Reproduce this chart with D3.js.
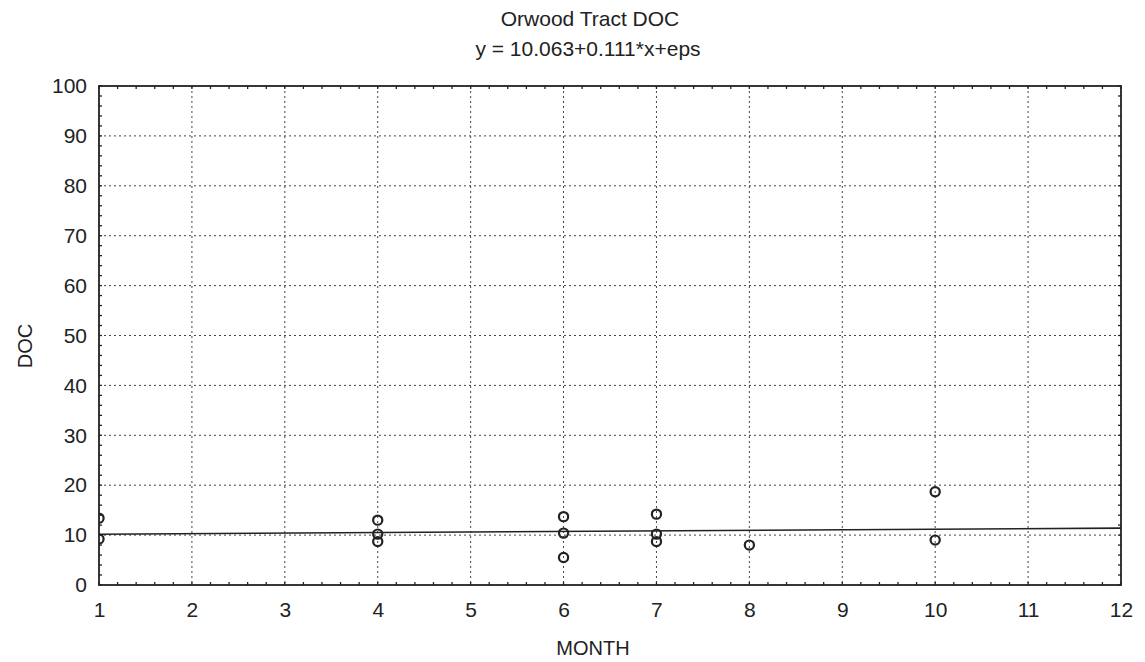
<!DOCTYPE html>
<html><head><meta charset="utf-8">
<script src="https://cdn.jsdelivr.net/npm/d3@7"></script>
<style>body{margin:0;background:#fff;} svg{display:block;} text{font-family:"Liberation Sans",Arial,sans-serif;fill:#222;}</style>
</head><body>
<svg id="c" width="1145" height="662"></svg>
<script>
const titleLines = ["Orwood Tract DOC", "y = 10.063+0.111*x+eps"];
const xLabel = "MONTH";
const yLabel = "DOC";
const xTicks = [1,2,3,4,5,6,7,8,9,10,11,12];
const yTicks = [0,10,20,30,40,50,60,70,80,90,100];
const months = [1,1,4,4,4,6,6,6,7,7,7,8,10,10];
const docValues = [13.4,9.2,13.0,10.2,8.7,13.7,10.4,5.5,14.2,10.2,8.7,8.0,18.7,9.0];
const intercept = 10.063, slope = 0.111;

const svg = d3.select("#c");
const L = 99, R = 1121, T = 86, B = 585;
const x = d3.scaleLinear().domain([1,12]).range([L,R]);
const y = d3.scaleLinear().domain([0,100]).range([B,T]);

// grid
const grid = svg.append("g").attr("stroke","#444").attr("stroke-width",1).attr("stroke-dasharray","2,3");
grid.selectAll(".gx").data(xTicks.slice(1,-1)).join("line")
  .attr("x1",d=>x(d)).attr("x2",d=>x(d)).attr("y1",T).attr("y2",B);
grid.selectAll(".gy").data(yTicks.slice(1,-1)).join("line")
  .attr("x1",L).attr("x2",R).attr("y1",d=>y(d)).attr("y2",d=>y(d));

// minor ticks on all four sides
const xMinor = d3.range(1,12.001,0.2);
const yMinor = d3.range(0,100.001,2);
const tk = svg.append("g").attr("stroke","#222").attr("stroke-width",1.3);
tk.selectAll(".tb").data(xMinor).join("line").attr("x1",d=>x(d)).attr("x2",d=>x(d)).attr("y1",B).attr("y2",B-3);
tk.selectAll(".tt").data(xMinor).join("line").attr("x1",d=>x(d)).attr("x2",d=>x(d)).attr("y1",T).attr("y2",T+3);
tk.selectAll(".tl").data(yMinor).join("line").attr("y1",d=>y(d)).attr("y2",d=>y(d)).attr("x1",L).attr("x2",L+3);
tk.selectAll(".tr").data(yMinor).join("line").attr("y1",d=>y(d)).attr("y2",d=>y(d)).attr("x1",R).attr("x2",R-3);

// axes (labels)
const xAxis = d3.axisBottom(x).tickValues(xTicks).tickSize(0).tickPadding(17).tickFormat(d3.format("d"));
const gx = svg.append("g").attr("transform",`translate(0,${B})`).call(xAxis);
gx.select(".domain").remove();
gx.selectAll("text").attr("font-size",21).attr("fill","#222").attr("font-family","Liberation Sans, Arial, sans-serif");
const yAxis = d3.axisLeft(y).tickValues(yTicks).tickSize(0).tickPadding(12).tickFormat(d3.format("d"));
const gy = svg.append("g").attr("transform",`translate(${L},0)`).call(yAxis);
gy.select(".domain").remove();
gy.selectAll("text").attr("font-size",21).attr("fill","#222").attr("font-family","Liberation Sans, Arial, sans-serif");

// clip
svg.append("clipPath").attr("id","pc").append("rect").attr("x",L).attr("y",T).attr("width",R-L).attr("height",B-T);
const plot = svg.append("g").attr("clip-path","url(#pc)");

// regression line
const line = d3.line().x(d=>x(d)).y(d=>y(intercept+slope*d));
plot.append("path").datum([1,12]).attr("d",line).attr("fill","none").attr("stroke","#222").attr("stroke-width",1.6);

// points
plot.selectAll("circle").data(months.map((m,i)=>[m,docValues[i]])).join("circle")
  .attr("cx",d=>x(d[0])).attr("cy",d=>y(d[1])).attr("r",4.6)
  .attr("fill","none").attr("stroke","#222").attr("stroke-width",2.2);

// frame
svg.append("rect").attr("x",L).attr("y",T).attr("width",R-L).attr("height",B-T)
  .attr("fill","none").attr("stroke","#222").attr("stroke-width",1.8);

// titles
svg.append("text").attr("x",590).attr("y",26).attr("text-anchor","middle").attr("font-size",21).text(titleLines[0]);
svg.append("text").attr("x",588).attr("y",56).attr("text-anchor","middle").attr("font-size",21).text(titleLines[1]);
svg.append("text").attr("x",593).attr("y",655).attr("text-anchor","middle").attr("font-size",20).text(xLabel);
svg.append("text").attr("transform","translate(32,346) rotate(-90)").attr("text-anchor","middle").attr("font-size",20).text(yLabel);
</script>
</body></html>
